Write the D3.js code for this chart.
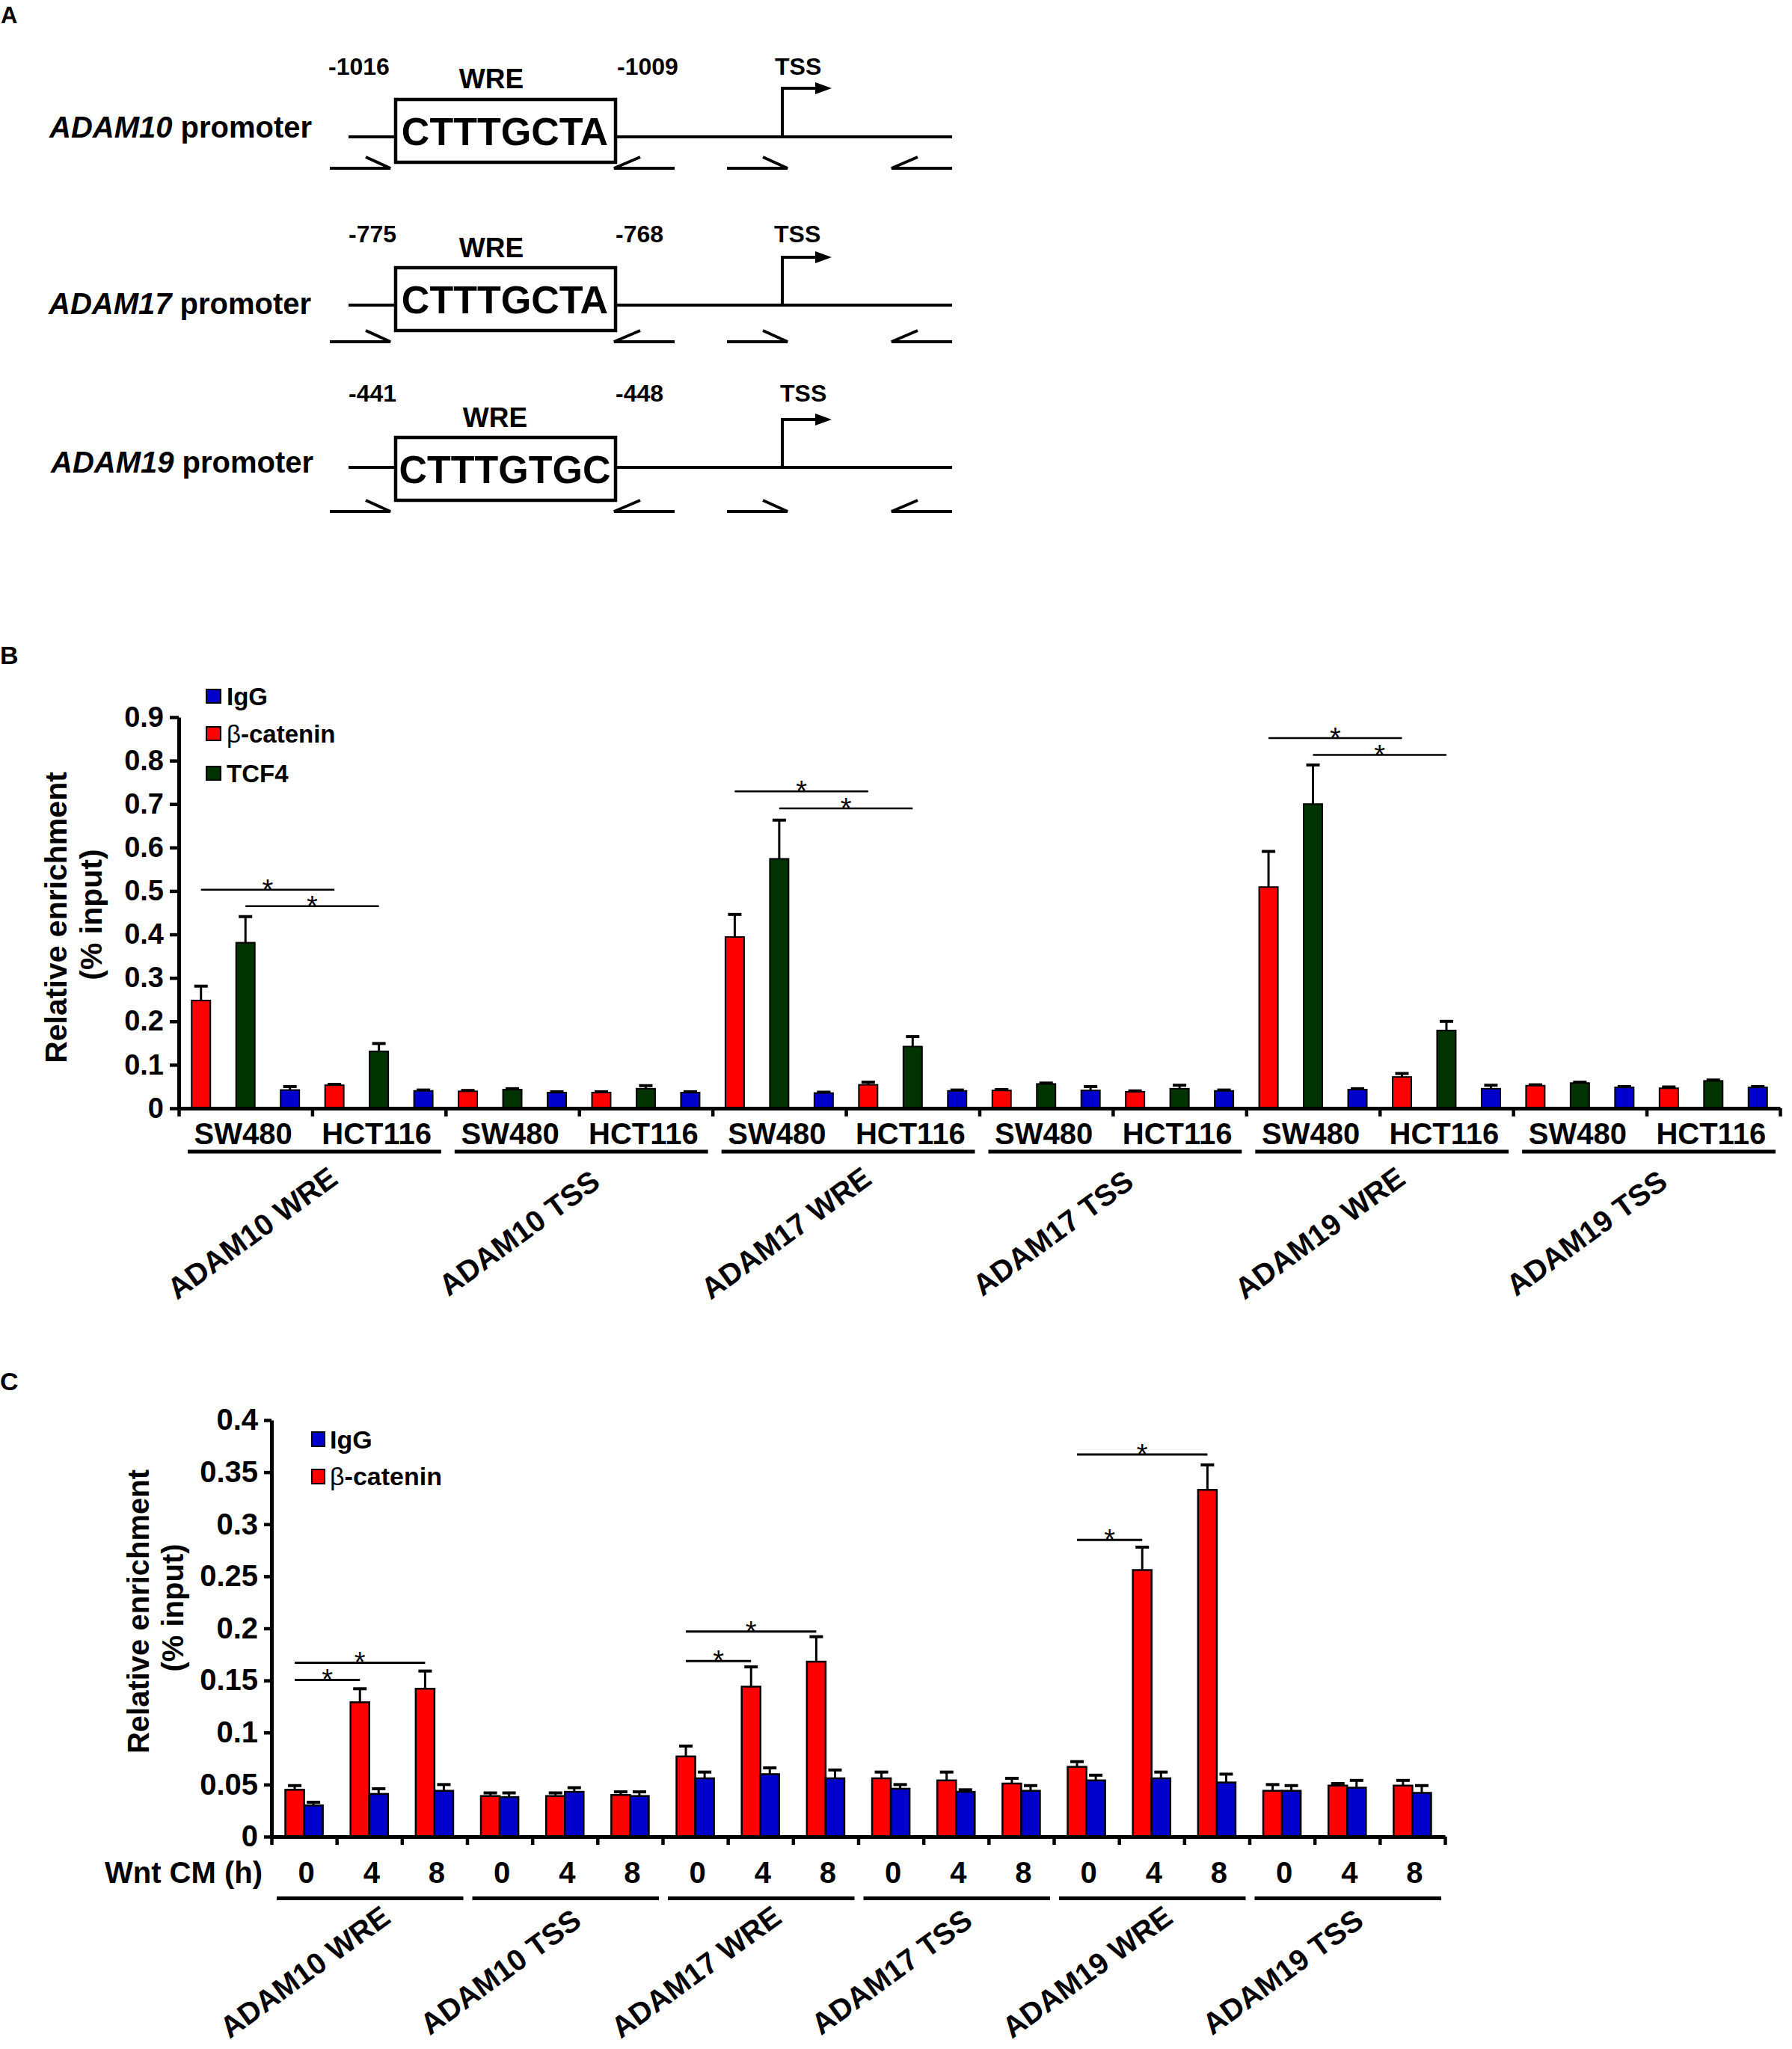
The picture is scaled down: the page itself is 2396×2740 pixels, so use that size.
<!DOCTYPE html>
<html>
<head>
<meta charset="utf-8">
<script src="https://cdn.jsdelivr.net/npm/d3@7"></script>
<style>
  body { margin: 0; background: #fff; }
  text { font-family: "Liberation Sans", Arial, sans-serif; font-weight: bold; fill: #000; }
</style>
</head>
<body>
<div id="my_figure"></div>
<script>
// ---------------- data ----------------
// panel A: promoter schemes
var promoterGenes = ["ADAM10", "ADAM17", "ADAM19"];
var wreStart = ["-1016", "-775", "-441"];
var wreEnd = ["-1009", "-768", "-448"];
var wreSequence = ["CTTTGCTA", "CTTTGCTA", "CTTTGTGC"];

// panel B: ChIP in two cell lines
var targetsB = ["ADAM10 WRE", "ADAM10 TSS", "ADAM17 WRE", "ADAM17 TSS", "ADAM19 WRE", "ADAM19 TSS"];
var cellLines = ["SW480", "HCT116"];
var yTicksB = [0, 0.1, 0.2, 0.3, 0.4, 0.5, 0.6, 0.7, 0.8, 0.9];
// one value per target x cell line (SW480, HCT116, SW480, HCT116 ...)
var betaB    = [0.248, 0.053, 0.039, 0.036, 0.394, 0.054, 0.041, 0.038, 0.509, 0.072, 0.052, 0.046];
var betaBErr = [0.033, 0.002, 0.002, 0.002, 0.052, 0.006, 0.002, 0.002, 0.082, 0.008, 0.002, 0.003];
var tcfB     = [0.381, 0.131, 0.043, 0.045, 0.574, 0.142, 0.056, 0.045, 0.700, 0.179, 0.058, 0.063];
var tcfBErr  = [0.060, 0.018, 0.002, 0.007, 0.089, 0.023, 0.002, 0.008, 0.090, 0.021, 0.002, 0.002];
var iggB     = [0.042, 0.040, 0.036, 0.036, 0.035, 0.040, 0.041, 0.040, 0.043, 0.045, 0.048, 0.048];
var iggBErr  = [0.008, 0.002, 0.002, 0.002, 0.002, 0.002, 0.009, 0.002, 0.002, 0.008, 0.002, 0.002];
// significance lines: target, series, height
var sigTargetB = [0, 0, 2, 2, 4, 4];
var sigSeriesB = ["beta", "tcf", "beta", "tcf", "beta", "tcf"];
var sigLevelB  = [0.503, 0.465, 0.729, 0.690, 0.852, 0.813];

// panel C: Wnt CM time course
var targetsC = ["ADAM10 WRE", "ADAM10 TSS", "ADAM17 WRE", "ADAM17 TSS", "ADAM19 WRE", "ADAM19 TSS"];
var timesC = ["0", "4", "8"];
var yTicksC = [0, 0.05, 0.1, 0.15, 0.2, 0.25, 0.3, 0.35, 0.4];
var betaC    = [0.045, 0.129, 0.142, 0.039, 0.039, 0.040, 0.077, 0.144, 0.168, 0.056, 0.054, 0.051, 0.067, 0.256, 0.333, 0.044, 0.049, 0.049];
var betaCErr = [0.004, 0.013, 0.017, 0.003, 0.003, 0.003, 0.010, 0.019, 0.024, 0.006, 0.008, 0.005, 0.005, 0.022, 0.024, 0.006, 0.002, 0.005];
var iggC     = [0.030, 0.041, 0.044, 0.038, 0.043, 0.039, 0.056, 0.060, 0.056, 0.046, 0.043, 0.044, 0.054, 0.056, 0.052, 0.044, 0.047, 0.042];
var iggCErr  = [0.003, 0.005, 0.006, 0.004, 0.004, 0.004, 0.006, 0.006, 0.008, 0.004, 0.002, 0.005, 0.005, 0.006, 0.008, 0.005, 0.007, 0.007];
// significance lines: target, from time, to time, height
var sigTargetC = [0, 0, 2, 2, 4, 4];
var sigFromC   = [0, 0, 0, 0, 0, 0];
var sigToC     = [1, 2, 1, 2, 1, 2];
var sigLevelC  = [0.1505, 0.167, 0.1686, 0.197, 0.285, 0.367];

// ---------------- svg ----------------
var svg = d3.select("#my_figure")
  .append("svg")
    .attr("width", 2396)
    .attr("height", 2740);

svg.append("rect").attr("width", 2396).attr("height", 2740).attr("fill", "#fff");

// panel letters
svg.append("text").attr("x", 1).attr("y", 31).style("font-size", "31px").text("A");
svg.append("text").attr("x", 0).attr("y", 888).style("font-size", "34px").text("B");
svg.append("text").attr("x", 0).attr("y", 1859).style("font-size", "34px").text("C");

// ================= panel A =================
var rowLineY   = [183, 408, 625];   // promoter line
var rowBoxTop  = [133, 358, 585];
var rowNumY    = [100, 324, 537];   // base of -1016 / TSS labels
var rowWreY    = [118, 344, 571];
var rowLabelY  = [184, 420, 632];
var rowPrimerY = [225, 457, 684];
var rowArrowY  = [118, 344, 561];
var rowLabelX  = [66, 65, 68];
var rowNumX    = [439, 466, 466];
var rowEndX    = [825, 823, 823];
var rowTssX    = [1036, 1035, 1043];
var rowWreX    = [657, 657, 662];

var gA = svg.append("g");
promoterGenes.forEach(function (gene, i) {
  var ly = rowLineY[i];
  // gene label
  var lab = gA.append("text").attr("x", rowLabelX[i]).attr("y", rowLabelY[i]).style("font-size", "40px");
  lab.append("tspan").style("font-style", "italic").text(gene);
  lab.append("tspan").text(" promoter");

  // promoter line (left piece + right piece)
  gA.append("line").attr("x1", 466).attr("x2", 529).attr("y1", ly).attr("y2", ly)
    .attr("stroke", "#000").attr("stroke-width", 4);
  gA.append("line").attr("x1", 823).attr("x2", 1273).attr("y1", ly).attr("y2", ly)
    .attr("stroke", "#000").attr("stroke-width", 4);

  // WRE box
  gA.append("rect").attr("x", 529).attr("y", rowBoxTop[i]).attr("width", 294).attr("height", 84)
    .attr("fill", "#fff").attr("stroke", "#000").attr("stroke-width", 4.5);
  gA.append("text").attr("x", 675).attr("y", rowBoxTop[i] + 61)
    .attr("text-anchor", "middle").style("font-size", "52px").text(wreSequence[i]);
  gA.append("text").attr("x", rowWreX[i]).attr("y", rowWreY[i])
    .attr("text-anchor", "middle").style("font-size", "37px").text("WRE");

  // positions and TSS
  gA.append("text").attr("x", rowNumX[i]).attr("y", rowNumY[i]).style("font-size", "32px").text(wreStart[i]);
  gA.append("text").attr("x", rowEndX[i]).attr("y", rowNumY[i]).style("font-size", "32px").text(wreEnd[i]);
  gA.append("text").attr("x", rowTssX[i]).attr("y", rowNumY[i]).style("font-size", "32px").text("TSS");

  // TSS arrow
  var at = rowArrowY[i];
  gA.append("path").attr("d", "M1046," + ly + "V" + at + "H1092")
    .attr("fill", "none").attr("stroke", "#000").attr("stroke-width", 4);
  gA.append("path").attr("d", "M1090," + (at - 8) + "L1112," + at + "L1090," + (at + 8) + "Z")
    .attr("fill", "#000");

  // primers (half arrows)
  var py = rowPrimerY[i];
  var fwd = [441, 972], rev = [821, 1192];
  fwd.forEach(function (x0) {
    gA.append("path").attr("d", "M" + x0 + "," + py + "H" + (x0 + 81) + "L" + (x0 + 48) + "," + (py - 15))
      .attr("fill", "none").attr("stroke", "#000").attr("stroke-width", 4);
  });
  rev.forEach(function (x0) {
    gA.append("path").attr("d", "M" + (x0 + 81) + "," + py + "H" + x0 + "L" + (x0 + 35) + "," + (py - 15))
      .attr("fill", "none").attr("stroke", "#000").attr("stroke-width", 4);
  });
});

// ================= shared helpers =================
var tickFmt = function (d) { return d === 0 ? "0" : String(+d.toFixed(2)); };

function styleAxis(g, fontSize) {
  g.select(".domain").attr("stroke-width", 5);
  g.selectAll(".tick line").attr("stroke-width", 4.5);
  g.selectAll(".tick text")
    .style("font-size", fontSize + "px")
    .style("font-family", "'Liberation Sans', Arial, sans-serif")
    .style("font-weight", "bold")
    .attr("fill", "#000");
}

// ================= panel B =================
var gB = svg.append("g");
var subB = d3.range(targetsB.length * cellLines.length);
var xB = d3.scaleBand().domain(subB).range([239, 2380]);
var xInB = d3.scaleBand().domain(["beta", "tcf", "igg"]).range([0, xB.bandwidth()])
  .paddingInner(0.58).paddingOuter(0.29);
var yB = d3.scaleLinear().domain([0, 0.9]).range([1482, 959]);

var seriesB = [
  { key: "beta", color: "#ff0000", values: betaB, err: betaBErr },
  { key: "tcf",  color: "#013301", values: tcfB,  err: tcfBErr },
  { key: "igg",  color: "#0000cc", values: iggB,  err: iggBErr }
];

seriesB.forEach(function (s) {
  var gs = gB.append("g");
  // error bars (upper only)
  gs.selectAll("line.err").data(s.values).enter().append("line")
    .attr("x1", function (d, i) { return xB(i) + xInB(s.key) + xInB.bandwidth() / 2; })
    .attr("x2", function (d, i) { return xB(i) + xInB(s.key) + xInB.bandwidth() / 2; })
    .attr("y1", function (d) { return yB(d); })
    .attr("y2", function (d, i) { return yB(d + s.err[i]); })
    .attr("stroke", "#000").attr("stroke-width", 3);
  gs.selectAll("line.cap").data(s.values).enter().append("line")
    .attr("x1", function (d, i) { return xB(i) + xInB(s.key) + xInB.bandwidth() / 2 - 9; })
    .attr("x2", function (d, i) { return xB(i) + xInB(s.key) + xInB.bandwidth() / 2 + 9; })
    .attr("y1", function (d, i) { return yB(d + s.err[i]); })
    .attr("y2", function (d, i) { return yB(d + s.err[i]); })
    .attr("stroke", "#000").attr("stroke-width", 4);
  // bars
  gs.selectAll("rect").data(s.values).enter().append("rect")
    .attr("x", function (d, i) { return xB(i) + xInB(s.key); })
    .attr("y", function (d) { return yB(d); })
    .attr("width", xInB.bandwidth())
    .attr("height", function (d) { return yB(0) - yB(d); })
    .attr("fill", s.color).attr("stroke", "#000").attr("stroke-width", 2);
});

// y axis
var yAxisB = gB.append("g").attr("transform", "translate(239,0)")
  .call(d3.axisLeft(yB).tickValues(yTicksB).tickFormat(tickFmt).tickSize(12).tickPadding(8).tickSizeOuter(0));
styleAxis(yAxisB, 38);

// x axis with a tick at each cell-line slot boundary
var xTickB = d3.scaleLinear().domain([0, subB.length]).range([239, 2380]);
var xAxisB = gB.append("g").attr("transform", "translate(0,1482)")
  .call(d3.axisBottom(xTickB).tickValues(d3.range(subB.length + 1)).tickFormat("").tickSize(11).tickSizeOuter(0));
styleAxis(xAxisB, 38);

// cell line labels
gB.selectAll("text.cell").data(subB).enter().append("text")
  .attr("x", function (d) { return xB(d) + xB.bandwidth() / 2 - 3; })
  .attr("y", 1530)
  .attr("text-anchor", "middle").style("font-size", "40px")
  .text(function (d) { return cellLines[d % 2]; });

// target underlines and rotated names
targetsB.forEach(function (t, i) {
  var x0 = xB(2 * i), x1 = xB(2 * i + 1) + xB.bandwidth();
  gB.append("line").attr("x1", x0 + 12).attr("x2", x1 - 6).attr("y1", 1540).attr("y2", 1540)
    .attr("stroke", "#000").attr("stroke-width", 5);
  gB.append("text")
    .attr("transform", "translate(" + ((x0 + x1) / 2 - 72) + ",1660) rotate(-36)")
    .attr("text-anchor", "middle").style("font-size", "40px").text(t);
});

// y title
gB.append("text").attr("transform", "translate(89,1227) rotate(-90)")
  .attr("text-anchor", "middle").style("font-size", "41px").text("Relative enrichment");
gB.append("text").attr("transform", "translate(136,1223) rotate(-90)")
  .attr("text-anchor", "middle").style("font-size", "41px").text("(% input)");

// legend
var legB = [
  { name: "IgG", color: "#0000cc", y: 922, ty: 943 },
  { name: "β-catenin", color: "#ff0000", y: 972, ty: 993 },
  { name: "TCF4", color: "#013301", y: 1025, ty: 1046 }
];
legB.forEach(function (l) {
  gB.append("rect").attr("x", 276).attr("y", l.y).attr("width", 19).attr("height", 18)
    .attr("fill", l.color).attr("stroke", "#000").attr("stroke-width", 2);
  var t = gB.append("text").attr("x", 303).attr("y", l.ty).style("font-size", "33px");
  if (l.name.charAt(0) === "β") {
    t.append("tspan").style("font-weight", "normal").text("β");
    t.append("tspan").text(l.name.slice(1));
  } else {
    t.text(l.name);
  }
});

// significance
sigTargetB.forEach(function (t, i) {
  var xa = xB(2 * t) + xInB(sigSeriesB[i]) + xInB.bandwidth() / 2;
  var xb = xB(2 * t + 1) + xInB(sigSeriesB[i]) + xInB.bandwidth() / 2;
  var yy = yB(sigLevelB[i]);
  gB.append("line").attr("x1", xa).attr("x2", xb).attr("y1", yy).attr("y2", yy)
    .attr("stroke", "#000").attr("stroke-width", 2.5);
  gB.append("text").attr("x", (xa + xb) / 2).attr("y", yy + 13)
    .attr("text-anchor", "middle").style("font-size", "38px").style("font-weight", "normal").text("*");
});

// ================= panel C =================
var gC = svg.append("g");
var subC = d3.range(targetsC.length * timesC.length);
var xC = d3.scaleBand().domain(subC).range([363, 1932]);
var xInC = d3.scaleBand().domain(["beta", "igg"]).range([0, xC.bandwidth()])
  .paddingInner(0).paddingOuter(0.74);
var yC = d3.scaleLinear().domain([0, 0.4]).range([2456, 1899]);

var seriesC = [
  { key: "beta", color: "#ff0000", values: betaC, err: betaCErr },
  { key: "igg",  color: "#0000cc", values: iggC,  err: iggCErr }
];

seriesC.forEach(function (s) {
  var gs = gC.append("g");
  gs.selectAll("line.err").data(s.values).enter().append("line")
    .attr("x1", function (d, i) { return xC(i) + xInC(s.key) + xInC.bandwidth() / 2; })
    .attr("x2", function (d, i) { return xC(i) + xInC(s.key) + xInC.bandwidth() / 2; })
    .attr("y1", function (d) { return yC(d); })
    .attr("y2", function (d, i) { return yC(d + s.err[i]); })
    .attr("stroke", "#000").attr("stroke-width", 3);
  gs.selectAll("line.cap").data(s.values).enter().append("line")
    .attr("x1", function (d, i) { return xC(i) + xInC(s.key) + xInC.bandwidth() / 2 - 9; })
    .attr("x2", function (d, i) { return xC(i) + xInC(s.key) + xInC.bandwidth() / 2 + 9; })
    .attr("y1", function (d, i) { return yC(d + s.err[i]); })
    .attr("y2", function (d, i) { return yC(d + s.err[i]); })
    .attr("stroke", "#000").attr("stroke-width", 4);
  gs.selectAll("rect").data(s.values).enter().append("rect")
    .attr("x", function (d, i) { return xC(i) + xInC(s.key); })
    .attr("y", function (d) { return yC(d); })
    .attr("width", xInC.bandwidth())
    .attr("height", function (d) { return yC(0) - yC(d); })
    .attr("fill", s.color).attr("stroke", "#000").attr("stroke-width", 2.5);
});

var yAxisC = gC.append("g").attr("transform", "translate(363,0)")
  .call(d3.axisLeft(yC).tickValues(yTicksC).tickFormat(tickFmt).tickSize(10).tickPadding(8).tickSizeOuter(0));
styleAxis(yAxisC, 40);

var xTickC = d3.scaleLinear().domain([0, subC.length]).range([363, 1932]);
var xAxisC = gC.append("g").attr("transform", "translate(0,2456)")
  .call(d3.axisBottom(xTickC).tickValues(d3.range(subC.length + 1)).tickFormat("").tickSize(11).tickSizeOuter(0));
styleAxis(xAxisC, 40);

// time labels
gC.append("text").attr("x", 140).attr("y", 2518).style("font-size", "40px").text("Wnt CM (h)");
gC.selectAll("text.time").data(subC).enter().append("text")
  .attr("x", function (d) { return xC(d) + xC.bandwidth() / 2 + 3; })
  .attr("y", 2518)
  .attr("text-anchor", "middle").style("font-size", "40px")
  .text(function (d) { return timesC[d % 3]; });

targetsC.forEach(function (t, i) {
  var x0 = xC(3 * i), x1 = xC(3 * i + 2) + xC.bandwidth();
  gC.append("line").attr("x1", x0 + 7).attr("x2", x1 - 5).attr("y1", 2538.5).attr("y2", 2538.5)
    .attr("stroke", "#000").attr("stroke-width", 5);
  gC.append("text")
    .attr("transform", "translate(" + ((x0 + x1) / 2 - 78) + ",2648) rotate(-36)")
    .attr("text-anchor", "middle").style("font-size", "40px").text(t);
});

gC.append("text").attr("transform", "translate(199,2155) rotate(-90)")
  .attr("text-anchor", "middle").style("font-size", "40px").text("Relative enrichment");
gC.append("text").attr("transform", "translate(245,2150) rotate(-90)")
  .attr("text-anchor", "middle").style("font-size", "40px").text("(% input)");

var legC = [
  { name: "IgG", color: "#0000cc", y: 1915, ty: 1937 },
  { name: "β-catenin", color: "#ff0000", y: 1965, ty: 1986 }
];
legC.forEach(function (l) {
  gC.append("rect").attr("x", 417).attr("y", l.y).attr("width", 17).attr("height", 19)
    .attr("fill", l.color).attr("stroke", "#000").attr("stroke-width", 2);
  var t = gC.append("text").attr("x", 441).attr("y", l.ty).style("font-size", "34px");
  if (l.name.charAt(0) === "β") {
    t.append("tspan").style("font-weight", "normal").text("β");
    t.append("tspan").text(l.name.slice(1));
  } else {
    t.text(l.name);
  }
});

sigTargetC.forEach(function (t, i) {
  var xa = xC(3 * t + sigFromC[i]) + xInC("beta") + xInC.bandwidth() / 2;
  var xb = xC(3 * t + sigToC[i]) + xInC("beta") + xInC.bandwidth() / 2;
  var yy = yC(sigLevelC[i]);
  gC.append("line").attr("x1", xa).attr("x2", xb).attr("y1", yy).attr("y2", yy)
    .attr("stroke", "#000").attr("stroke-width", 3);
  gC.append("text").attr("x", (xa + xb) / 2).attr("y", yy + 13)
    .attr("text-anchor", "middle").style("font-size", "38px").style("font-weight", "normal").text("*");
});
</script>
</body>
</html>
